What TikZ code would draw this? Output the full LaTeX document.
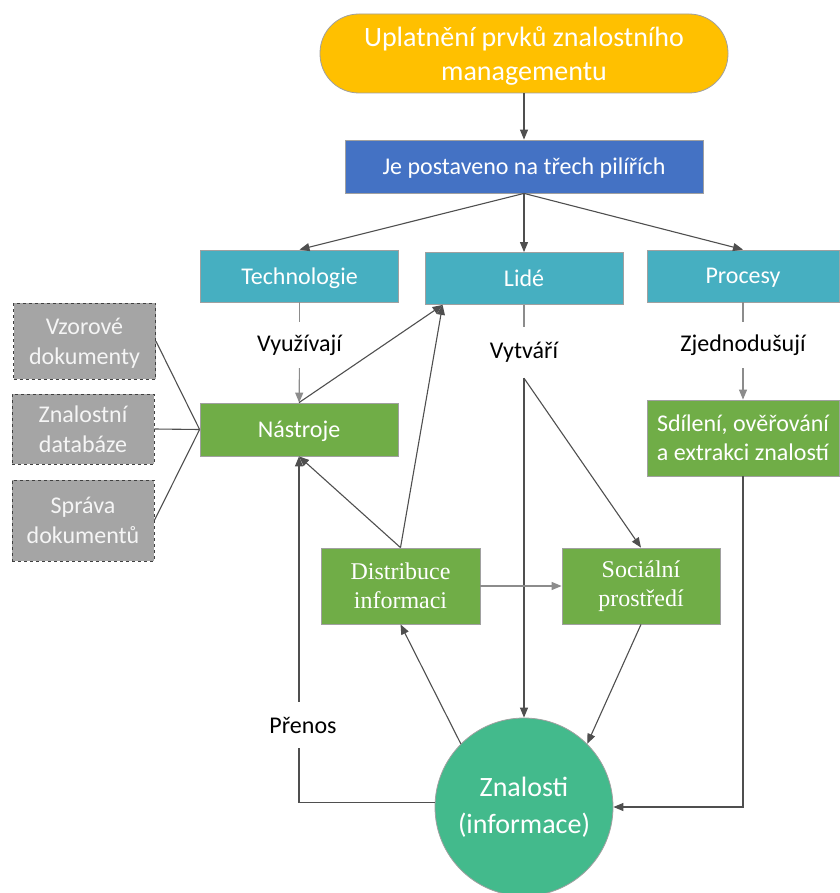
\documentclass[tikz,border=0pt]{standalone}
\usepackage{fontspec}
\setmainfont{Carlito}
\newfontfamily\serifft{Liberation Serif}
\usetikzlibrary{arrows.meta,calc}
\definecolor{pillc}{HTML}{FFC000}
\definecolor{bluec}{HTML}{4472C4}
\definecolor{tealc}{HTML}{46AFC1}
\definecolor{greenc}{HTML}{70AD47}
\definecolor{grayc}{HTML}{A5A5A5}
\definecolor{circc}{HTML}{43BA8C}
\definecolor{bordc}{HTML}{A0A0A0}
\definecolor{darkln}{HTML}{4F4F4F}
\definecolor{lightln}{HTML}{8C8C8C}
\tikzset{
  boxbase/.style={draw=bordc, line width=0.8pt, text=white, align=center, inner sep=0pt,
    font=\fontsize{24}{29}\selectfont},
  pillbox/.style={boxbase, text depth=0pt, fill=pillc, rounded corners=39pt, minimum width=408pt, minimum height=79pt,
    font=\fontsize{28}{34}\selectfont},
  bluebox/.style={boxbase, text depth=0pt, fill=bluec, minimum width=358pt, minimum height=53pt},
  tealbox/.style={boxbase, text depth=0pt, fill=tealc, minimum width=198pt, minimum height=52pt},
  greenbox/.style={boxbase, text depth=0pt, fill=greenc, minimum width=198pt, minimum height=53pt},
  serifbox/.style={boxbase, fill=greenc, minimum width=159pt, minimum height=76pt,
    font=\serifft\fontsize{24}{29}\selectfont},
  graybox/.style={boxbase, text depth=0pt, fill=grayc, draw=black!75, dashed, line width=0.7pt, text=white!96!black, minimum width=142pt,
    font=\fontsize{24}{30}\selectfont},
  circbox/.style={boxbase, circle, fill=circc, minimum size=178pt, font=\fontsize{28}{37}\selectfont},
  lbl/.style={text=black, font=\fontsize{24}{29}\selectfont, inner xsep=2pt, inner ysep=0pt, minimum height=46pt},
  darr/.style={draw=darkln, line width=1.1pt, -{Triangle[length=10pt,width=8pt]}},
  larr/.style={draw=lightln, line width=1.1pt, -{Triangle[length=10pt,width=8pt]}},
  dln/.style={draw=darkln, line width=1.1pt},
  lln/.style={draw=lightln, line width=1.1pt},
}
\begin{document}
\begin{tikzpicture}[x=1pt,y=-1pt]
\useasboundingbox (0,0) rectangle (839,893);
% nodes
\node[pillbox] (pill) at (524,53.5) {Uplatnění prvků znalostního\\managementu};
\node[bluebox] (blue) at (524,166.5) {Je postaveno na třech pilířích};
\node[tealbox] (tech) at (299.5,276) {Technologie};
\node[tealbox] (lide) at (524,278.5) {Lidé};
\node[tealbox, minimum width=192pt] (proc) at (743,276) {Procesy};
\node[graybox, minimum height=76pt] (vz) at (84.5,341) {Vzorové\\dokumenty};
\node[graybox, minimum height=70pt] (zd) at (83,429) {Znalostní\\databáze};
\node[graybox, minimum height=81pt] (sd) at (83,520.5) {Správa\\dokumentů};
\node[greenbox] (nastr) at (299,429.5) {Nástroje};
\node[greenbox, minimum width=192pt, minimum height=76pt] (sdil) at (743,438) {Sdílení, ověřování\\a extrakci znalostí};
\node[serifbox] (dist) at (400.5,586) {Distribuce\\informaci};
\node[serifbox, minimum width=158pt] (soc) at (641,586) {Sociální\\prostředí};
\node[circbox] (zn) at (524,807) {Znalosti\\(informace)};
% labels
\node[lbl] (lvy) at (299.5,345) {Využívají};
\node[lbl, minimum height=51pt] (lvt) at (524,352.5) {Vytváří};
\node[lbl] (lzj) at (743,345) {Zjednodušují};
\node[lbl] (lpr) at (303,725) {Přenos};
% connectors
\draw[darr] (pill) -- (blue);
\draw[darr] (blue.south) -- (tech.north);
\draw[darr] (blue.south) -- (lide.north);
\draw[darr] (blue.south) -- (proc.north);
\draw[lln] (tech) -- (lvy);
\draw[larr] (lvy) -- (nastr);
\draw[lln] (proc) -- (lzj);
\draw[larr] (lzj) -- (sdil);
\draw[lln] (lide) -- (lvt);
\draw[darr] (lvt.south) -- (zn.north);
\draw[darr] (lvt.south) -- (soc.north);
\draw[darr] (nastr.north) -- ([xshift=18pt]lide.south west);
\draw[darr] (dist.north) -- ([xshift=18pt]lide.south west);
\draw[darr] (dist.north) -- (nastr.south);
\draw[larr] (dist.east) -- (soc.west);
\draw[darr] (soc.south) -- (zn.45);
\draw[darr] (zn.135) -- (dist.south);
\draw[darr] (sdil.south) |- (zn.east);
\draw[dln] (zn.177) -| (lpr.south -| nastr.south);
\draw[darr] (lpr.north -| nastr.south) -- (nastr.south);
\draw[dln] (vz.east) -- (nastr.west);
\draw[dln] (zd.east) -- (nastr.west);
\draw[dln] (sd.east) -- (nastr.west);
\end{tikzpicture}
\end{document}
